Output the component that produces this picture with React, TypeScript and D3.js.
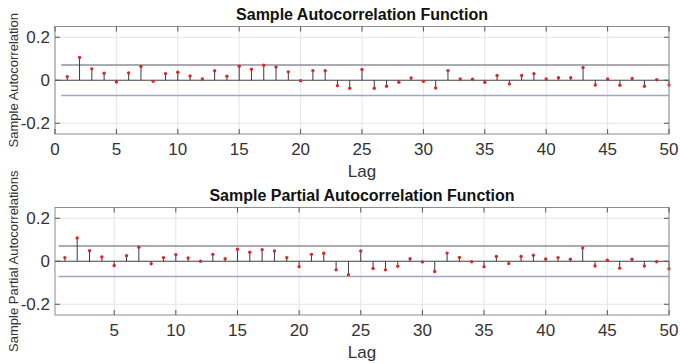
import React from "react";
import * as d3 from "d3";

// Lags 1..50
const lags: number[] = d3.range(1, 51);

const acfValues: number[] = [
  0.017, 0.106, 0.053, 0.033, -0.008, 0.034, 0.064, -0.005, 0.031, 0.037,
  0.02, 0.006, 0.044, 0.019, 0.065, 0.051, 0.07, 0.062, 0.039, -0.002,
  0.045, 0.044, -0.025, -0.037, 0.05, -0.037, -0.028, -0.009, 0.011, -0.005,
  -0.036, 0.045, 0.006, 0.005, -0.009, 0.022, -0.017, 0.022, 0.031, 0.006,
  0.012, 0.012, 0.059, -0.022, 0.006, -0.023, 0.008, -0.028, 0.002, -0.022,
];

const pacfValues: number[] = [
  0.017, 0.108, 0.049, 0.02, -0.02, 0.026, 0.065, -0.012, 0.017, 0.031,
  0.015, 0.0, 0.032, 0.012, 0.056, 0.042, 0.054, 0.048, 0.017, -0.025,
  0.032, 0.037, -0.04, -0.063, 0.048, -0.034, -0.04, -0.023, 0.012, -0.003,
  -0.048, 0.038, 0.018, -0.002, -0.025, 0.022, -0.011, 0.022, 0.028, 0.011,
  0.017, 0.009, 0.062, -0.022, 0.005, -0.032, 0.009, -0.022, -0.002, -0.035,
];

const confBound = 0.071;
const yTicks: number[] = [-0.2, 0, 0.2];
const yTickLabels: string[] = ["-0.2", "0", "0.2"];
const acfXTicks: number[] = [0, 5, 10, 15, 20, 25, 30, 35, 40, 45, 50];
const pacfXTicks: number[] = [5, 10, 15, 20, 25, 30, 35, 40, 45, 50];

const FONT = "'Liberation Sans', Arial, Helvetica, sans-serif";

type PanelProps = {
  values: number[];
  title: string;
  yLabel: string;
  xDomain: [number, number];
  xTicks: number[];
  top: number;
  bottom: number;
};

const LEFT = 55;
const RIGHT = 669;

function Panel({ values, title, yLabel, xDomain, xTicks, top, bottom }: PanelProps) {
  const x = d3.scaleLinear().domain(xDomain).range([LEFT, RIGHT]);
  const y = d3.scaleLinear().domain([-0.25, 0.25]).range([bottom, top]);
  const tickLen = 5;
  const xb0 = Math.max(0.5, xDomain[0]);
  const xb1 = Math.min(50.5, xDomain[1]);
  const midX = (LEFT + RIGHT) / 2;
  const midY = (top + bottom) / 2;

  return (
    <g>
      {/* grid */}
      {xTicks.map((t) => (
        <line key={"gx" + t} x1={x(t)} x2={x(t)} y1={top} y2={bottom} stroke="#e4e4e8" strokeWidth={1} />
      ))}
      {yTicks.map((t) => (
        <line key={"gy" + t} x1={LEFT} x2={RIGHT} y1={y(t)} y2={y(t)} stroke="#e4e4e8" strokeWidth={1} />
      ))}

      {/* confidence bounds */}
      <line x1={x(xb0)} x2={x(xb1)} y1={y(confBound)} y2={y(confBound)} stroke="#8e8e9a" strokeWidth={1.3} />
      <line x1={x(xb0)} x2={x(xb1)} y1={y(-confBound)} y2={y(-confBound)} stroke="#9ea4c6" strokeWidth={1.3} />

      {/* baseline */}
      <line x1={LEFT} x2={RIGHT} y1={y(0)} y2={y(0)} stroke="#4a4a4a" strokeWidth={1.1} />

      {/* stems */}
      {lags.map((lag, i) => (
        <line key={"s" + lag} x1={x(lag)} x2={x(lag)} y1={y(0)} y2={y(values[i])} stroke="#3a3a3a" strokeWidth={1} />
      ))}
      {lags.map((lag, i) => (
        <circle key={"m" + lag} cx={x(lag)} cy={y(values[i])} r={1.7} fill="#d42a2a" />
      ))}

      {/* axes box */}
      <rect x={LEFT} y={top} width={RIGHT - LEFT} height={bottom - top} fill="none" stroke="#8c8c8c" strokeWidth={1} />
      {xTicks.map((t) => (
        <g key={"tx" + t}>
          <line x1={x(t)} x2={x(t)} y1={bottom} y2={bottom - tickLen} stroke="#555" />
          <line x1={x(t)} x2={x(t)} y1={top} y2={top + tickLen} stroke="#555" />
          <text x={x(t)} y={bottom + 20.5} textAnchor="middle" fontSize={17} fill="#333" fontFamily={FONT}>
            {t}
          </text>
        </g>
      ))}
      {yTicks.map((t, i) => (
        <g key={"ty" + t}>
          <line x1={LEFT} x2={LEFT + tickLen} y1={y(t)} y2={y(t)} stroke="#555" />
          <line x1={RIGHT} x2={RIGHT - tickLen} y1={y(t)} y2={y(t)} stroke="#555" />
          <text x={50} y={y(t)} dy="0.36em" textAnchor="end" fontSize={17} fill="#333" fontFamily={FONT}>
            {yTickLabels[i]}
          </text>
        </g>
      ))}

      {/* labels */}
      <text x={midX} y={top - 6.5} textAnchor="middle" fontSize={16} fontWeight="bold" fill="#111" fontFamily={FONT}>
        {title}
      </text>
      <text x={midX} y={bottom + 43} textAnchor="middle" fontSize={17} fill="#333" fontFamily={FONT}>
        Lag
      </text>
      <text
        transform={`translate(18,${midY}) rotate(-90)`}
        textAnchor="middle"
        fontSize={13}
        fill="#333"
        fontFamily={FONT}
      >
        {yLabel}
      </text>
    </g>
  );
}

export default function App() {
  return (
    <svg
      width={680}
      height={363}
      style={{ position: "absolute", left: 0, top: 0, background: "#fff" }}
    >
      <rect width={680} height={363} fill="#fff" />
      <Panel
        values={acfValues}
        title="Sample Autocorrelation Function"
        yLabel="Sample Autocorrelation"
        xDomain={[0, 50]}
        xTicks={acfXTicks}
        top={26.5}
        bottom={134}
      />
      <Panel
        values={pacfValues}
        title="Sample Partial Autocorrelation Function"
        yLabel="Sample Partial Autocorrelations"
        xDomain={[0.2, 50]}
        xTicks={pacfXTicks}
        top={207.5}
        bottom={315}
      />
    </svg>
  );
}
